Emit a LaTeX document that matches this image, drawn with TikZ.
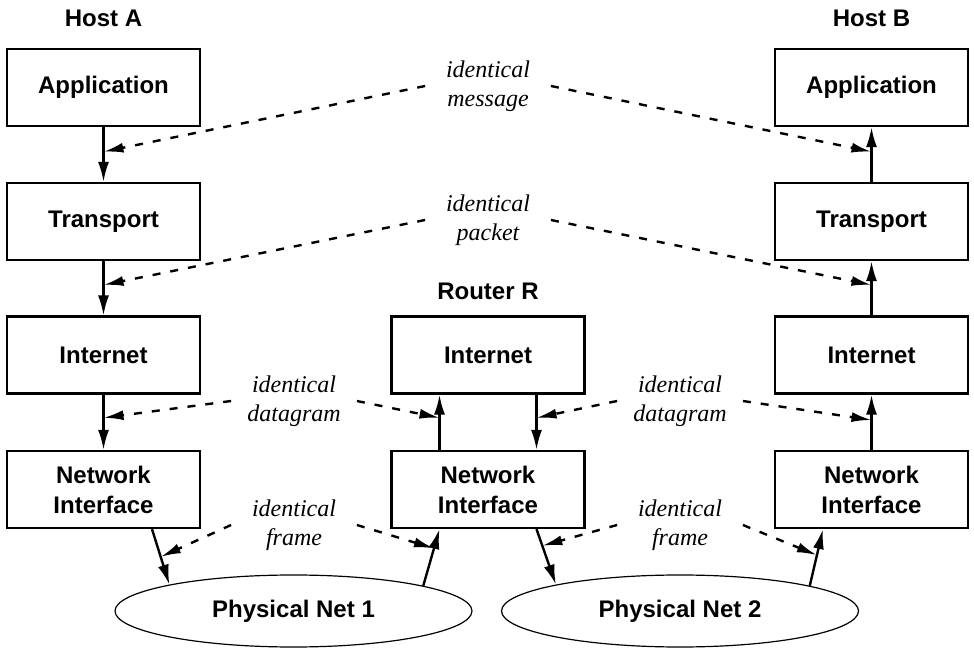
\documentclass[tikz,border=0pt]{standalone}
\usepackage{fontspec}
\setmainfont{Liberation Serif}
\setsansfont{Liberation Sans}
\usetikzlibrary{arrows.meta,shapes.geometric}

\tikzset{
  layer/.style={draw, line width=1.1pt, minimum width=96.5pt, minimum height=38.5pt,
    align=center, font=\sffamily\bfseries\fontsize{12}{15}\selectfont},
  host/.style={font=\sffamily\bfseries\fontsize{12}{15}\selectfont},
  net/.style={draw, ellipse, line width=0.6pt, inner sep=0pt,
    minimum width=178.5pt, minimum height=36pt,
    font=\sffamily\bfseries\fontsize{12}{15}\selectfont},
  same/.style={align=center, inner sep=0pt, minimum width=62.5pt,
    font=\itshape\fontsize{12}{14.5}\selectfont},
  flow/.style={line width=1.2pt, -{Latex[length=10pt,width=5.5pt]}},
  peer/.style={line width=1.2pt, dash pattern=on 4pt off 5pt,
    -{Latex[length=10pt,width=5pt]}}
}

\begin{document}
\begin{tikzpicture}[x=0.5pt, y=-0.5pt]

\def\q{24.25pt} % quarter of a box width

\useasboundingbox (0,0) rectangle (974,651);

% --- Hosts and router ---
\node[host] (hA) at (103.5,18) {Host A};
\node[host] (hB) at (871.5,18) {Host B};
\node[host] (hR) at (488,291.5) {Router R};

% Host A stack
\node[layer] (appA) at (103.5,87.5) {Application};
\node[layer] (trA)  at (103.5,221.5) {Transport};
\node[layer] (inA)  at (103.5,355) {Internet};
\node[layer] (niA)  at (103.5,489.5) {Network\\Interface};

% Router R stack
\node[layer] (inR) at (488,355) {Internet};
\node[layer] (niR) at (488,489.5) {Network\\Interface};

% Host B stack
\node[layer] (appB) at (871.5,87.5) {Application};
\node[layer] (trB)  at (871.5,221.5) {Transport};
\node[layer] (inB)  at (871.5,355) {Internet};
\node[layer] (niB)  at (871.5,489.5) {Network\\Interface};

% Physical networks
\node[net] (net1) at (293.5,611) {Physical Net 1};
\node[net] (net2) at (680,611) {Physical Net 2};

% --- Path of the data ---
% down through Host A
\draw[flow] (appA) -- coordinate[pos=.45] (mA) (trA);
\draw[flow] (trA) -- coordinate[pos=.44] (pA) (inA);
\draw[flow] (inA) -- coordinate[pos=.42] (dA) (niA);
\draw[flow] ([xshift=\q]niA.south) -- coordinate[pos=.5] (fA) (net1.168.5);

% up and down through the router
\draw[flow] (net1.11.5) -- coordinate[pos=.66] (fRl) ([xshift=-\q]niR.south);
\draw[flow] ([xshift=-\q]niR.north) -- coordinate[pos=.58] (dRl) ([xshift=-\q]inR.south);
\draw[flow] ([xshift=\q]inR.south) -- coordinate[pos=.42] (dRr) ([xshift=\q]niR.north);
\draw[flow] ([xshift=\q]niR.south) -- coordinate[pos=.3] (fRr) (net2.168.5);

% up through Host B
\draw[flow] (net2.11.5) -- coordinate[pos=.54] (fB) ([xshift=-\q]niB.south);
\draw[flow] (niB) -- coordinate[pos=.54] (dB) (inB);
\draw[flow] (inB) -- coordinate[pos=.56] (pB) (trB);
\draw[flow] (trB) -- coordinate[pos=.55] (mB) (appB);

% --- Identical objects ---
\node[same] (msg) at (488,86) {identical\\message};
\node[same] (pkt) at (488,220) {identical\\packet};
\node[same] (dgL) at (294,401) {identical\\datagram};
\node[same] (dgR) at (680,401) {identical\\datagram};
\node[same] (frL) at (294,525) {identical\\frame};
\node[same] (frR) at (680,525) {identical\\frame};

\draw[peer] (msg.west) -- (mA);
\draw[peer] (msg.east) -- (mB);
\draw[peer] (pkt.west) -- (pA);
\draw[peer] (pkt.east) -- (pB);
\draw[peer] (dgL.west) -- (dA);
\draw[peer] (dgL.east) -- (dRl);
\draw[peer] (dgR.west) -- (dRr);
\draw[peer] (dgR.east) -- (dB);
\draw[peer] (frL.west) -- (fA);
\draw[peer] (frL.east) -- (fRl);
\draw[peer] (frR.west) -- (fRr);
\draw[peer] (frR.east) -- (fB);

\end{tikzpicture}
\end{document}
